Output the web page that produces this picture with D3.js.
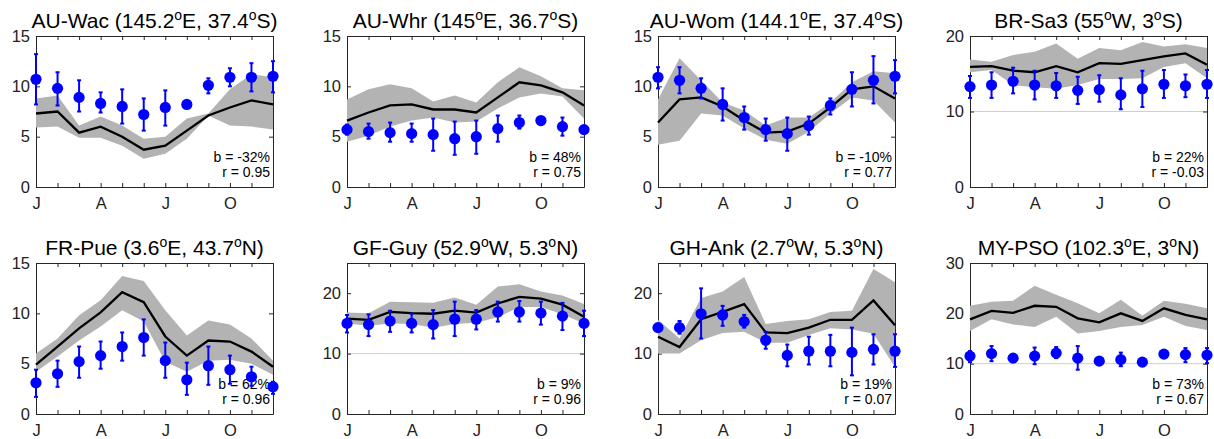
<!DOCTYPE html>
<html>
<head>
<meta charset="utf-8">
<script src="https://cdn.jsdelivr.net/npm/d3@7"></script>
<style>
  body { margin: 0; background: #fff; }
  svg { font-family: "Liberation Sans", Arial, Helvetica, sans-serif; }
</style>
</head>
<body>
<svg id="chart" width="1214" height="439"></svg>
<script>
// site names and coordinates for the panel titles
var sites = ['AU-Wac', 'AU-Whr', 'AU-Wom', 'BR-Sa3', 'FR-Pue', 'GF-Guy', 'GH-Ank', 'MY-PSO'];
var lonVal = ['145.2', '145', '144.1', '55', '3.6', '52.9', '2.7', '102.3'];
var lonDir = ['E', 'E', 'E', 'W', 'E', 'W', 'W', 'E'];
var latVal = ['37.4', '36.7', '37.4', '3', '43.7', '5.3', '5.3', '3'];
var latDir = ['S', 'S', 'S', 'S', 'N', 'N', 'N', 'N'];

var months = [1, 2, 3, 4, 5, 6, 7, 8, 9, 10, 11, 12];
var monthTicks = [1, 4, 7, 10];
var monthLabels = ['J', 'A', 'J', 'O'];

var yMax = [15, 15, 15, 20, 15, 25, 25, 30];
var yTicks = [[0, 5, 10, 15], [0, 5, 10, 15], [0, 5, 10, 15], [0, 10, 20],
              [0, 5, 10, 15], [0, 10, 20], [0, 10, 20], [0, 10, 20, 30]];
var refLine = [null, null, null, 10, null, 10, null, 10];

var biasText = ['-32%', '48%', '-10%', '22%', '62%', '9%', '19%', '73%'];
var corrText = ['0.95', '0.75', '0.77', '-0.03', '0.96', '0.96', '0.07', '0.67'];

// observations (blue dots) with error bar ends
var obsMean = [
  [10.7, 9.8, 8.9, 8.3, 8.0, 7.2, 7.9, 8.2, 10.1, 10.9, 10.9, 11.0],
  [5.7, 5.5, 5.4, 5.3, 5.2, 4.8, 5.0, 5.8, 6.4, 6.6, 6.0, 5.7],
  [10.9, 10.6, 9.8, 8.2, 6.9, 5.7, 5.3, 6.1, 8.1, 9.7, 10.6, 11.0],
  [13.3, 13.5, 14.0, 13.5, 13.4, 12.8, 12.9, 12.2, 13.0, 13.6, 13.4, 13.6],
  [3.1, 4.0, 5.2, 5.8, 6.7, 7.6, 5.3, 3.4, 4.8, 4.4, 3.7, 2.7],
  [15.0, 14.8, 15.4, 15.0, 14.8, 15.7, 15.7, 16.9, 16.9, 16.7, 16.2, 15.0],
  [14.3, 14.3, 16.6, 16.4, 15.3, 12.2, 9.7, 10.4, 10.4, 10.2, 10.7, 10.4],
  [11.5, 12.0, 11.1, 11.5, 12.1, 11.1, 10.5, 10.8, 10.3, 11.9, 11.8, 11.7]
];
var obsLow = [
  [8.2, 8.1, 7.5, 7.4, 6.3, 5.6, 6.1, 8.2, 9.3, 10.0, 9.5, 9.4],
  [5.2, 4.8, 4.5, 4.5, 3.6, 3.2, 3.3, 4.5, 5.8, 6.2, 5.1, 5.4],
  [9.8, 9.3, 8.8, 6.6, 5.7, 4.6, 3.6, 5.2, 7.2, 8.0, 8.3, 9.3],
  [11.8, 11.8, 12.4, 11.6, 11.8, 11.0, 11.3, 10.3, 10.6, 11.8, 11.9, 11.8],
  [1.7, 2.7, 3.6, 4.5, 5.3, 5.8, 3.6, 1.9, 2.9, 3.0, 2.8, 2.0],
  [13.5, 12.9, 13.6, 13.5, 12.5, 12.9, 14.0, 15.3, 15.3, 14.8, 13.9, 12.9],
  [13.8, 13.3, 12.5, 14.6, 14.3, 10.8, 7.9, 8.2, 7.9, 6.4, 8.2, 7.8],
  [10.3, 10.5, 10.5, 9.9, 11.1, 8.8, 10.0, 9.5, 10.3, 11.9, 10.3, 10.1]
];
var obsHigh = [
  [13.2, 11.4, 10.6, 9.4, 9.7, 8.8, 9.6, 8.2, 10.8, 11.8, 12.3, 12.5],
  [6.2, 6.3, 6.4, 6.3, 6.8, 6.5, 6.6, 7.1, 7.1, 6.9, 6.9, 6.0],
  [11.9, 11.9, 10.8, 9.8, 8.0, 6.8, 6.9, 7.0, 8.8, 11.4, 13.0, 12.6],
  [14.7, 15.2, 15.8, 15.4, 15.1, 14.6, 14.8, 14.4, 15.4, 15.5, 14.9, 15.5],
  [4.4, 5.3, 6.7, 7.2, 8.1, 9.4, 7.1, 5.1, 6.7, 5.8, 4.7, 3.2],
  [16.4, 16.5, 17.1, 16.6, 17.2, 18.6, 17.2, 18.6, 18.7, 18.6, 18.4, 17.1],
  [14.9, 15.4, 20.8, 17.9, 16.4, 13.6, 11.5, 12.8, 13.1, 14.3, 13.2, 13.2],
  [12.5, 13.5, 11.8, 13.2, 13.3, 13.5, 11.0, 12.2, 10.3, 11.9, 13.1, 13.1]
];

// model ensemble mean (black line) and spread (grey band)
var modelMean = [
  [7.3, 7.5, 5.4, 6.0, 5.0, 3.7, 4.1, 5.6, 7.1, 7.9, 8.6, 8.2],
  [6.6, 7.4, 8.1, 8.2, 7.7, 7.7, 7.4, 8.9, 10.4, 10.1, 9.4, 8.1],
  [6.4, 8.7, 8.9, 8.0, 6.6, 5.4, 5.5, 6.3, 7.9, 9.7, 10.0, 8.8],
  [15.9, 16.0, 15.4, 15.2, 16.0, 15.2, 16.4, 16.3, 16.8, 17.3, 17.7, 16.2],
  [4.9, 6.7, 8.5, 10.1, 12.1, 11.1, 7.7, 5.8, 7.3, 7.2, 6.2, 4.7],
  [15.8, 15.6, 16.9, 16.7, 16.6, 17.1, 16.8, 18.3, 19.4, 19.1, 18.1, 16.1],
  [12.8, 11.1, 15.7, 16.9, 18.2, 13.5, 13.4, 14.3, 15.6, 15.6, 18.8, 14.7],
  [18.8, 20.5, 20.1, 21.5, 21.3, 19.0, 18.2, 20.0, 18.5, 21.0, 19.7, 18.8]
];
var modelLow = [
  [5.9, 6.0, 4.9, 4.9, 4.1, 2.8, 3.3, 4.8, 7.1, 6.1, 6.0, 5.7],
  [4.5, 5.1, 6.0, 6.6, 6.9, 6.4, 6.5, 7.8, 8.9, 9.3, 9.0, 6.8],
  [4.2, 4.6, 7.3, 7.1, 5.8, 4.7, 4.3, 5.5, 7.3, 8.9, 8.6, 6.4],
  [15.2, 15.5, 13.5, 13.2, 13.0, 13.5, 14.3, 14.3, 14.4, 15.9, 16.4, 14.4],
  [4.2, 5.7, 7.3, 8.7, 10.3, 9.2, 5.2, 4.2, 5.3, 5.4, 5.0, 3.9],
  [15.0, 14.6, 15.0, 14.9, 14.3, 14.9, 15.1, 16.0, 17.7, 17.7, 16.5, 15.0],
  [10.0, 10.0, 12.2, 13.4, 13.6, 11.8, 11.8, 13.1, 14.2, 14.0, 13.3, 7.8],
  [16.5, 18.8, 17.8, 17.3, 19.3, 16.0, 16.5, 17.3, 17.7, 19.3, 17.5, 16.7]
];
var modelHigh = [
  [8.8, 9.1, 6.1, 7.0, 6.1, 4.8, 5.0, 6.8, 7.3, 9.7, 11.2, 10.9],
  [8.7, 9.7, 10.2, 9.8, 8.5, 9.1, 8.4, 10.4, 11.9, 11.0, 9.8, 9.6],
  [8.7, 12.8, 10.6, 8.4, 7.6, 6.1, 6.9, 6.9, 8.4, 10.4, 11.5, 11.3],
  [16.9, 16.6, 17.5, 17.9, 19.0, 17.0, 18.4, 18.1, 19.2, 18.6, 18.9, 18.4],
  [6.0, 7.5, 9.8, 11.3, 13.7, 13.2, 10.3, 7.8, 9.3, 8.9, 7.5, 5.3],
  [16.8, 16.7, 18.6, 18.5, 18.4, 19.3, 18.1, 21.1, 21.5, 20.3, 19.6, 18.2],
  [15.6, 12.5, 19.2, 20.3, 22.7, 14.9, 15.4, 15.7, 16.9, 17.1, 24.0, 21.8],
  [21.5, 22.3, 22.5, 25.5, 23.7, 22.0, 20.0, 22.7, 19.5, 22.5, 21.9, 21.0]
];

var colLeft = [36, 347, 658, 970];
var rowTop = [36, 263];
var plotW = 237, plotH = 151;
var axisColor = '#262626';

var svg = d3.select('#chart');
svg.append('rect').attr('width', 1214).attr('height', 439).attr('fill', '#fff');

var x = d3.scaleLinear().domain([1, 12]).range([0, plotW]);

sites.forEach(function(site, i) {
  var g = svg.append('g')
      .attr('transform', 'translate(' + colLeft[i % 4] + ',' + rowTop[Math.floor(i / 4)] + ')');

  var y = d3.scaleLinear().domain([0, yMax[i]]).range([plotH, 0]);

  // title with superscript degree marks
  var title = g.append('text')
      .attr('x', plotW / 2)
      .attr('y', -8)
      .attr('text-anchor', 'middle')
      .attr('font-size', 21)
      .attr('fill', '#000');
  title.append('tspan').text(site + ' (' + lonVal[i]);
  title.append('tspan').attr('font-size', 14).attr('dy', -8).text('o');
  title.append('tspan').attr('dy', 8).text(lonDir[i] + ', ' + latVal[i]);
  title.append('tspan').attr('font-size', 14).attr('dy', -8).text('o');
  title.append('tspan').attr('dy', 8).text(latDir[i] + ')');

  // reference line
  if (refLine[i] !== null) {
    g.append('line')
        .attr('x1', 0).attr('x2', plotW)
        .attr('y1', y(refLine[i])).attr('y2', y(refLine[i]))
        .attr('stroke', '#cfcfcf')
        .attr('stroke-width', 1);
  }

  // axes, ticks pointing inward
  var monthFmt = function(d) {
    var k = monthTicks.indexOf(d);
    return k >= 0 ? monthLabels[k] : '';
  };
  var axes = [
    g.append('g').attr('transform', 'translate(0,' + plotH + ')')
      .call(d3.axisBottom(x).tickValues(months).tickSizeInner(-4).tickSizeOuter(0)
        .tickPadding(10).tickFormat(monthFmt)),
    g.append('g')
      .call(d3.axisTop(x).tickValues(months).tickSizeInner(-4).tickSizeOuter(0).tickFormat('')),
    g.append('g')
      .call(d3.axisLeft(y).tickValues(yTicks[i]).tickSizeInner(-4).tickSizeOuter(0)
        .tickPadding(6).tickFormat(d3.format('d'))),
    g.append('g').attr('transform', 'translate(' + plotW + ',0)')
      .call(d3.axisRight(y).tickValues(yTicks[i]).tickSizeInner(-4).tickSizeOuter(0).tickFormat(''))
  ];
  axes.forEach(function(a) {
    a.selectAll('path').attr('stroke', axisColor);
    a.selectAll('line').attr('stroke', axisColor);
    a.selectAll('text')
        .attr('font-size', 16.5)
        .attr('font-family', '"Liberation Sans", Arial, Helvetica, sans-serif')
        .attr('fill', '#222');
  });

  // bias and correlation
  var note = g.append('text')
      .attr('text-anchor', 'end')
      .attr('font-size', 14)
      .attr('fill', '#000');
  note.append('tspan').attr('x', plotW - 3).attr('y', plotH - 25).text('b = ' + biasText[i]);
  note.append('tspan').attr('x', plotW - 3).attr('y', plotH - 10).text('r = ' + corrText[i]);

  // model spread
  var area = d3.area()
      .x(function(d) { return x(d); })
      .y0(function(d) { return y(modelLow[i][d - 1]); })
      .y1(function(d) { return y(modelHigh[i][d - 1]); });
  g.append('path')
      .datum(months)
      .attr('d', area)
      .attr('fill', '#b3b3b3');

  // model mean
  var line = d3.line()
      .x(function(d) { return x(d); })
      .y(function(d) { return y(modelMean[i][d - 1]); });
  g.append('path')
      .datum(months)
      .attr('d', line)
      .attr('fill', 'none')
      .attr('stroke', '#000')
      .attr('stroke-width', 2.3);

  // observation error bars
  var bars = g.append('g').attr('stroke', '#0000ff').attr('stroke-width', 2);
  months.forEach(function(m) {
    var cx = x(m), lo = y(obsLow[i][m - 1]), hi = y(obsHigh[i][m - 1]);
    bars.append('line').attr('x1', cx).attr('x2', cx).attr('y1', lo).attr('y2', hi);
    bars.append('line').attr('x1', cx - 2).attr('x2', cx + 2).attr('y1', lo).attr('y2', lo);
    bars.append('line').attr('x1', cx - 2).attr('x2', cx + 2).attr('y1', hi).attr('y2', hi);
  });

  // observation means
  g.append('g').selectAll('circle')
      .data(months)
      .join('circle')
      .attr('cx', function(d) { return x(d); })
      .attr('cy', function(d) { return y(obsMean[i][d - 1]); })
      .attr('r', 5.6)
      .attr('fill', '#0000ff');
});
</script>
</body>
</html>
